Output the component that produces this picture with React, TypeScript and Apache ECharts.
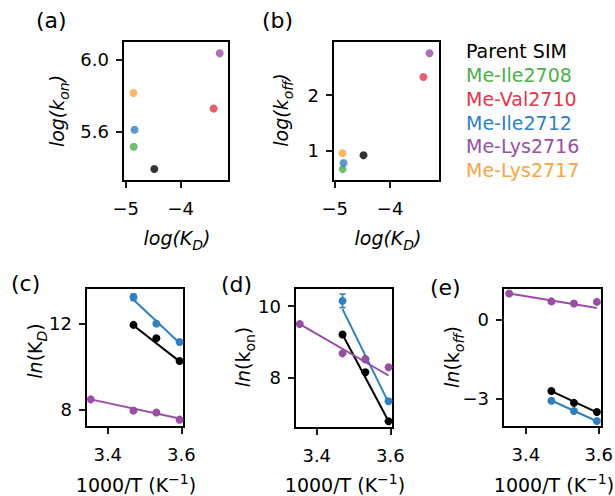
import React, { useEffect, useRef } from 'react';
import * as echarts from 'echarts';

// ---- data ----
const compounds = ['Parent SIM', 'Me-Ile2708', 'Me-Val2710', 'Me-Ile2712', 'Me-Lys2716', 'Me-Lys2717'];
const colors = ['#000000', '#4daf4a', '#e3364a', '#2f7fc1', '#984ea3', '#f7a541'];
const logKD = [-4.48, -4.855, -3.4, -4.84, -3.29, -4.86];
const logKon = [5.39, 5.515, 5.728, 5.61, 6.037, 5.815];
const logKoff = [0.91, 0.66, 2.325, 0.77, 2.754, 0.946];

const invT3 = [3.47, 3.532, 3.595];
const invT4 = [3.354, 3.47, 3.532, 3.595];
const fitX3 = [3.47, 3.595];
const fitX4 = [3.354, 3.595];

const lnKD_parent = [11.94, 11.32, 10.27];
const lnKD_ile2712 = [13.22, 12.0, 11.15];
const lnKD_ile2712_err = [0.15, 0, 0];
const lnKD_lys2716 = [8.49, 7.97, 7.88, 7.55];
const lnKDfit_parent = [11.91, 10.25];
const lnKDfit_ile2712 = [13.11, 11.1];
const lnKDfit_lys2716 = [8.49, 7.6];

const lnKon_parent = [9.21, 8.15, 6.78];
const lnKon_ile2712 = [10.15, 8.51, 7.34];
const lnKon_ile2712_err = [0.19, 0, 0];
const lnKon_lys2716 = [9.5, 8.68, 8.52, 8.29];
const lnKonfit_parent = [9.21, 6.78];
const lnKonfit_ile2712 = [9.92, 7.3];
const lnKonfit_lys2716 = [9.5, 8.06];

const lnKoff_parent = [-2.72, -3.17, -3.52];
const lnKoff_ile2712 = [-3.09, -3.48, -3.86];
const lnKoff_lys2716 = [1.0, 0.7, 0.62, 0.68];
const lnKofffit_parent = [-2.72, -3.53];
const lnKofffit_ile2712 = [-3.08, -3.87];
const lnKofffit_lys2716 = [1.0, 0.45];

const ticksA_x = [-5, -4];
const ticksA_y = [5.6, 6.0];
const ticksB_y = [1, 2];
const ticksT = [3.4, 3.6];
const ticksC_y = [8, 12];
const ticksD_y = [8, 10];
const ticksE_y = [-3, 0];

const FONT = 'DejaVu Sans';
const BLACK = '#000';
const PARENT = colors[0];
const ILE2712 = colors[3];
const LYS2716 = colors[4];

function fmt(decimals: number) {
  return (v: number) => {
    const s = Math.abs(v).toFixed(decimals);
    return v < 0 ? '\u2212' + s : s;
  };
}

function axis(gridIndex: number, min: number, max: number, ticks: number[], decimals: number, isX: boolean) {
  return {
    type: 'value',
    gridIndex,
    min,
    max,
    axisLine: { show: true, onZero: false, lineStyle: { color: BLACK, width: 2 } },
    axisTick: { show: true, inside: false, length: 7, customValues: ticks, lineStyle: { color: BLACK, width: 1.8 } },
    axisLabel: {
      show: true,
      customValues: ticks,
      formatter: fmt(decimals),
      fontSize: 18,
      fontFamily: FONT,
      color: BLACK,
      margin: isX ? 18 : 14,
    },
    splitLine: { show: false },
  };
}

const grids = [
  { left: 123, top: 41, width: 106, height: 140 },
  { left: 333, top: 41, width: 107, height: 140 },
  { left: 86, top: 288, width: 98, height: 139 },
  { left: 295, top: 288, width: 98, height: 140 },
  { left: 503, top: 288, width: 99, height: 139 },
].map((g) => ({ ...g, show: true, borderColor: BLACK, borderWidth: 2, outerBoundsMode: 'none', containLabel: false }));

function pts(xs: number[], ys: number[]) {
  return xs.map((x, i) => [x, ys[i]]);
}

function scatter(g: number, xs: number[], ys: number[], color: string) {
  return {
    type: 'scatter',
    xAxisIndex: g,
    yAxisIndex: g,
    data: pts(xs, ys),
    symbolSize: 8,
    itemStyle: { color, opacity: 1 },
    z: 5,
  };
}

function fitLine(g: number, xs: number[], ys: number[], color: string) {
  return {
    type: 'line',
    xAxisIndex: g,
    yAxisIndex: g,
    data: pts(xs, ys),
    symbol: 'none',
    showSymbol: false,
    lineStyle: { color, width: 2 },
    z: 3,
  };
}

function errBars(g: number, xs: number[], ys: number[], es: number[], color: string) {
  const data = xs.map((x, i) => [x, ys[i], es[i]]).filter((d) => d[2] > 0);
  return {
    type: 'custom',
    xAxisIndex: g,
    yAxisIndex: g,
    data,
    z: 4,
    renderItem: (params: any, api: any) => {
      const x = api.value(0);
      const y = api.value(1);
      const e = api.value(2);
      const p1 = api.coord([x, y - e]);
      const p2 = api.coord([x, y + e]);
      const cw = 3;
      const st = { stroke: color, lineWidth: 1.6 };
      return {
        type: 'group',
        children: [
          { type: 'line', shape: { x1: p1[0], y1: p1[1], x2: p2[0], y2: p2[1] }, style: st },
          { type: 'line', shape: { x1: p1[0] - cw, y1: p1[1], x2: p1[0] + cw, y2: p1[1] }, style: st },
          { type: 'line', shape: { x1: p2[0] - cw, y1: p2[1], x2: p2[0] + cw, y2: p2[1] }, style: st },
        ],
      };
    },
  };
}

const rich = {
  i: { fontSize: 19, fontStyle: 'italic', lineHeight: 27, fontFamily: FONT, fill: BLACK },
  n: { fontSize: 19, lineHeight: 27, fontFamily: FONT, fill: BLACK },
  si: { fontSize: 14, fontStyle: 'italic', lineHeight: 14, verticalAlign: 'bottom', fontFamily: FONT, fill: BLACK },
  s: { fontSize: 14, lineHeight: 14, verticalAlign: 'bottom', fontFamily: FONT, fill: BLACK },
  sup: { fontSize: 14, lineHeight: 14, verticalAlign: 'top', fontFamily: FONT, fill: BLACK },
};

function label(text: string, x: number, y: number, rotate = false) {
  return {
    type: 'text',
    x,
    y,
    rotation: rotate ? Math.PI / 2 : 0,
    style: { text, rich, align: 'center', verticalAlign: 'middle', fill: BLACK, fontFamily: FONT, fontSize: 19 },
  };
}

function panelTag(text: string, x: number, y: number) {
  return {
    type: 'text',
    x,
    y,
    style: { text, fontSize: 22, fontFamily: FONT, fill: BLACK, align: 'left', verticalAlign: 'middle' },
  };
}

const legendY = [51, 75, 99, 123, 146, 170];

export default function App() {
  const ref = useRef<HTMLDivElement>(null);
  useEffect(() => {
    if (!ref.current) return;
    const chart = echarts.init(ref.current, undefined, { renderer: 'svg' });
    const option: any = {
      animation: false,
      backgroundColor: '#fff',
      grid: grids,
      xAxis: [
        axis(0, -5.05, -3.12, ticksA_x, 0, true),
        axis(1, -5.03, -3.1, ticksA_x, 0, true),
        axis(2, 3.341, 3.607, ticksT, 1, true),
        axis(3, 3.341, 3.607, ticksT, 1, true),
        axis(4, 3.337, 3.609, ticksT, 1, true),
      ],
      yAxis: [
        axis(0, 5.323, 6.106, ticksA_y, 1, false),
        axis(1, 0.445, 2.977, ticksB_y, 0, false),
        axis(2, 7.21, 13.65, ticksC_y, 0, false),
        axis(3, 6.59, 10.51, ticksD_y, 0, false),
        axis(4, -4.09, 1.21, ticksE_y, 0, false),
      ],
      series: [
        {
          type: 'scatter',
          xAxisIndex: 0,
          yAxisIndex: 0,
          symbolSize: 8,
          data: logKD.map((x, i) => ({ value: [x, logKon[i]], itemStyle: { color: colors[i] } })),
        },
        {
          type: 'scatter',
          xAxisIndex: 1,
          yAxisIndex: 1,
          symbolSize: 8,
          data: logKD.map((x, i) => ({ value: [x, logKoff[i]], itemStyle: { color: colors[i] } })),
        },
        // (c)
        fitLine(2, fitX3, lnKDfit_ile2712, ILE2712),
        fitLine(2, fitX3, lnKDfit_parent, PARENT),
        fitLine(2, fitX4, lnKDfit_lys2716, LYS2716),
        errBars(2, invT3, lnKD_ile2712, lnKD_ile2712_err, ILE2712),
        scatter(2, invT3, lnKD_ile2712, ILE2712),
        scatter(2, invT3, lnKD_parent, PARENT),
        scatter(2, invT4, lnKD_lys2716, LYS2716),
        // (d)
        fitLine(3, fitX3, lnKonfit_ile2712, ILE2712),
        fitLine(3, fitX3, lnKonfit_parent, PARENT),
        fitLine(3, fitX4, lnKonfit_lys2716, LYS2716),
        errBars(3, invT3, lnKon_ile2712, lnKon_ile2712_err, ILE2712),
        scatter(3, invT3, lnKon_ile2712, ILE2712),
        scatter(3, invT3, lnKon_parent, PARENT),
        scatter(3, invT4, lnKon_lys2716, LYS2716),
        // (e)
        fitLine(4, fitX3, lnKofffit_ile2712, ILE2712),
        fitLine(4, fitX3, lnKofffit_parent, PARENT),
        fitLine(4, fitX4, lnKofffit_lys2716, LYS2716),
        scatter(4, invT3, lnKoff_ile2712, ILE2712),
        scatter(4, invT3, lnKoff_parent, PARENT),
        scatter(4, invT4, lnKoff_lys2716, LYS2716),
      ],
      graphic: [
        panelTag('(a)', 36, 20),
        panelTag('(b)', 262, 20),
        panelTag('(c)', 11, 283),
        panelTag('(d)', 221, 284),
        panelTag('(e)', 430, 287),
        label('{i|log(k}{si|on}{i|)}', 57, 111, true),
        label('{i|log(K}{si|D}{i|)}', 177, 238),
        label('{i|log(k}{si|off}{i|)}', 281, 110, true),
        label('{i|log(K}{si|D}{i|)}', 388, 238),
        label('{i|ln}{n|(K}{si|D}{n|)}', 35, 351, true),
        label('{n|1000/T (K}{sup|\u22121}{n|)}', 136, 485),
        label('{i|ln}{n|(k}{s|on}{n|)}', 243, 357, true),
        label('{n|1000/T (K}{sup|\u22121}{n|)}', 345, 485),
        label('{i|ln}{n|(k}{si|off}{n|)}', 452, 357, true),
        label('{n|1000/T (K}{sup|\u22121}{n|)}', 554, 485),
        ...compounds.map((c, i) => ({
          type: 'text',
          x: 466,
          y: legendY[i],
          style: { text: c, fontSize: 19, fontFamily: FONT, fill: colors[i], align: 'left', verticalAlign: 'middle' },
        })),
      ],
    };
    chart.setOption(option);
    return () => chart.dispose();
  }, []);
  return <div ref={ref} style={{ position: 'fixed', left: 0, top: 0, width: 615, height: 496 }} />;
}
